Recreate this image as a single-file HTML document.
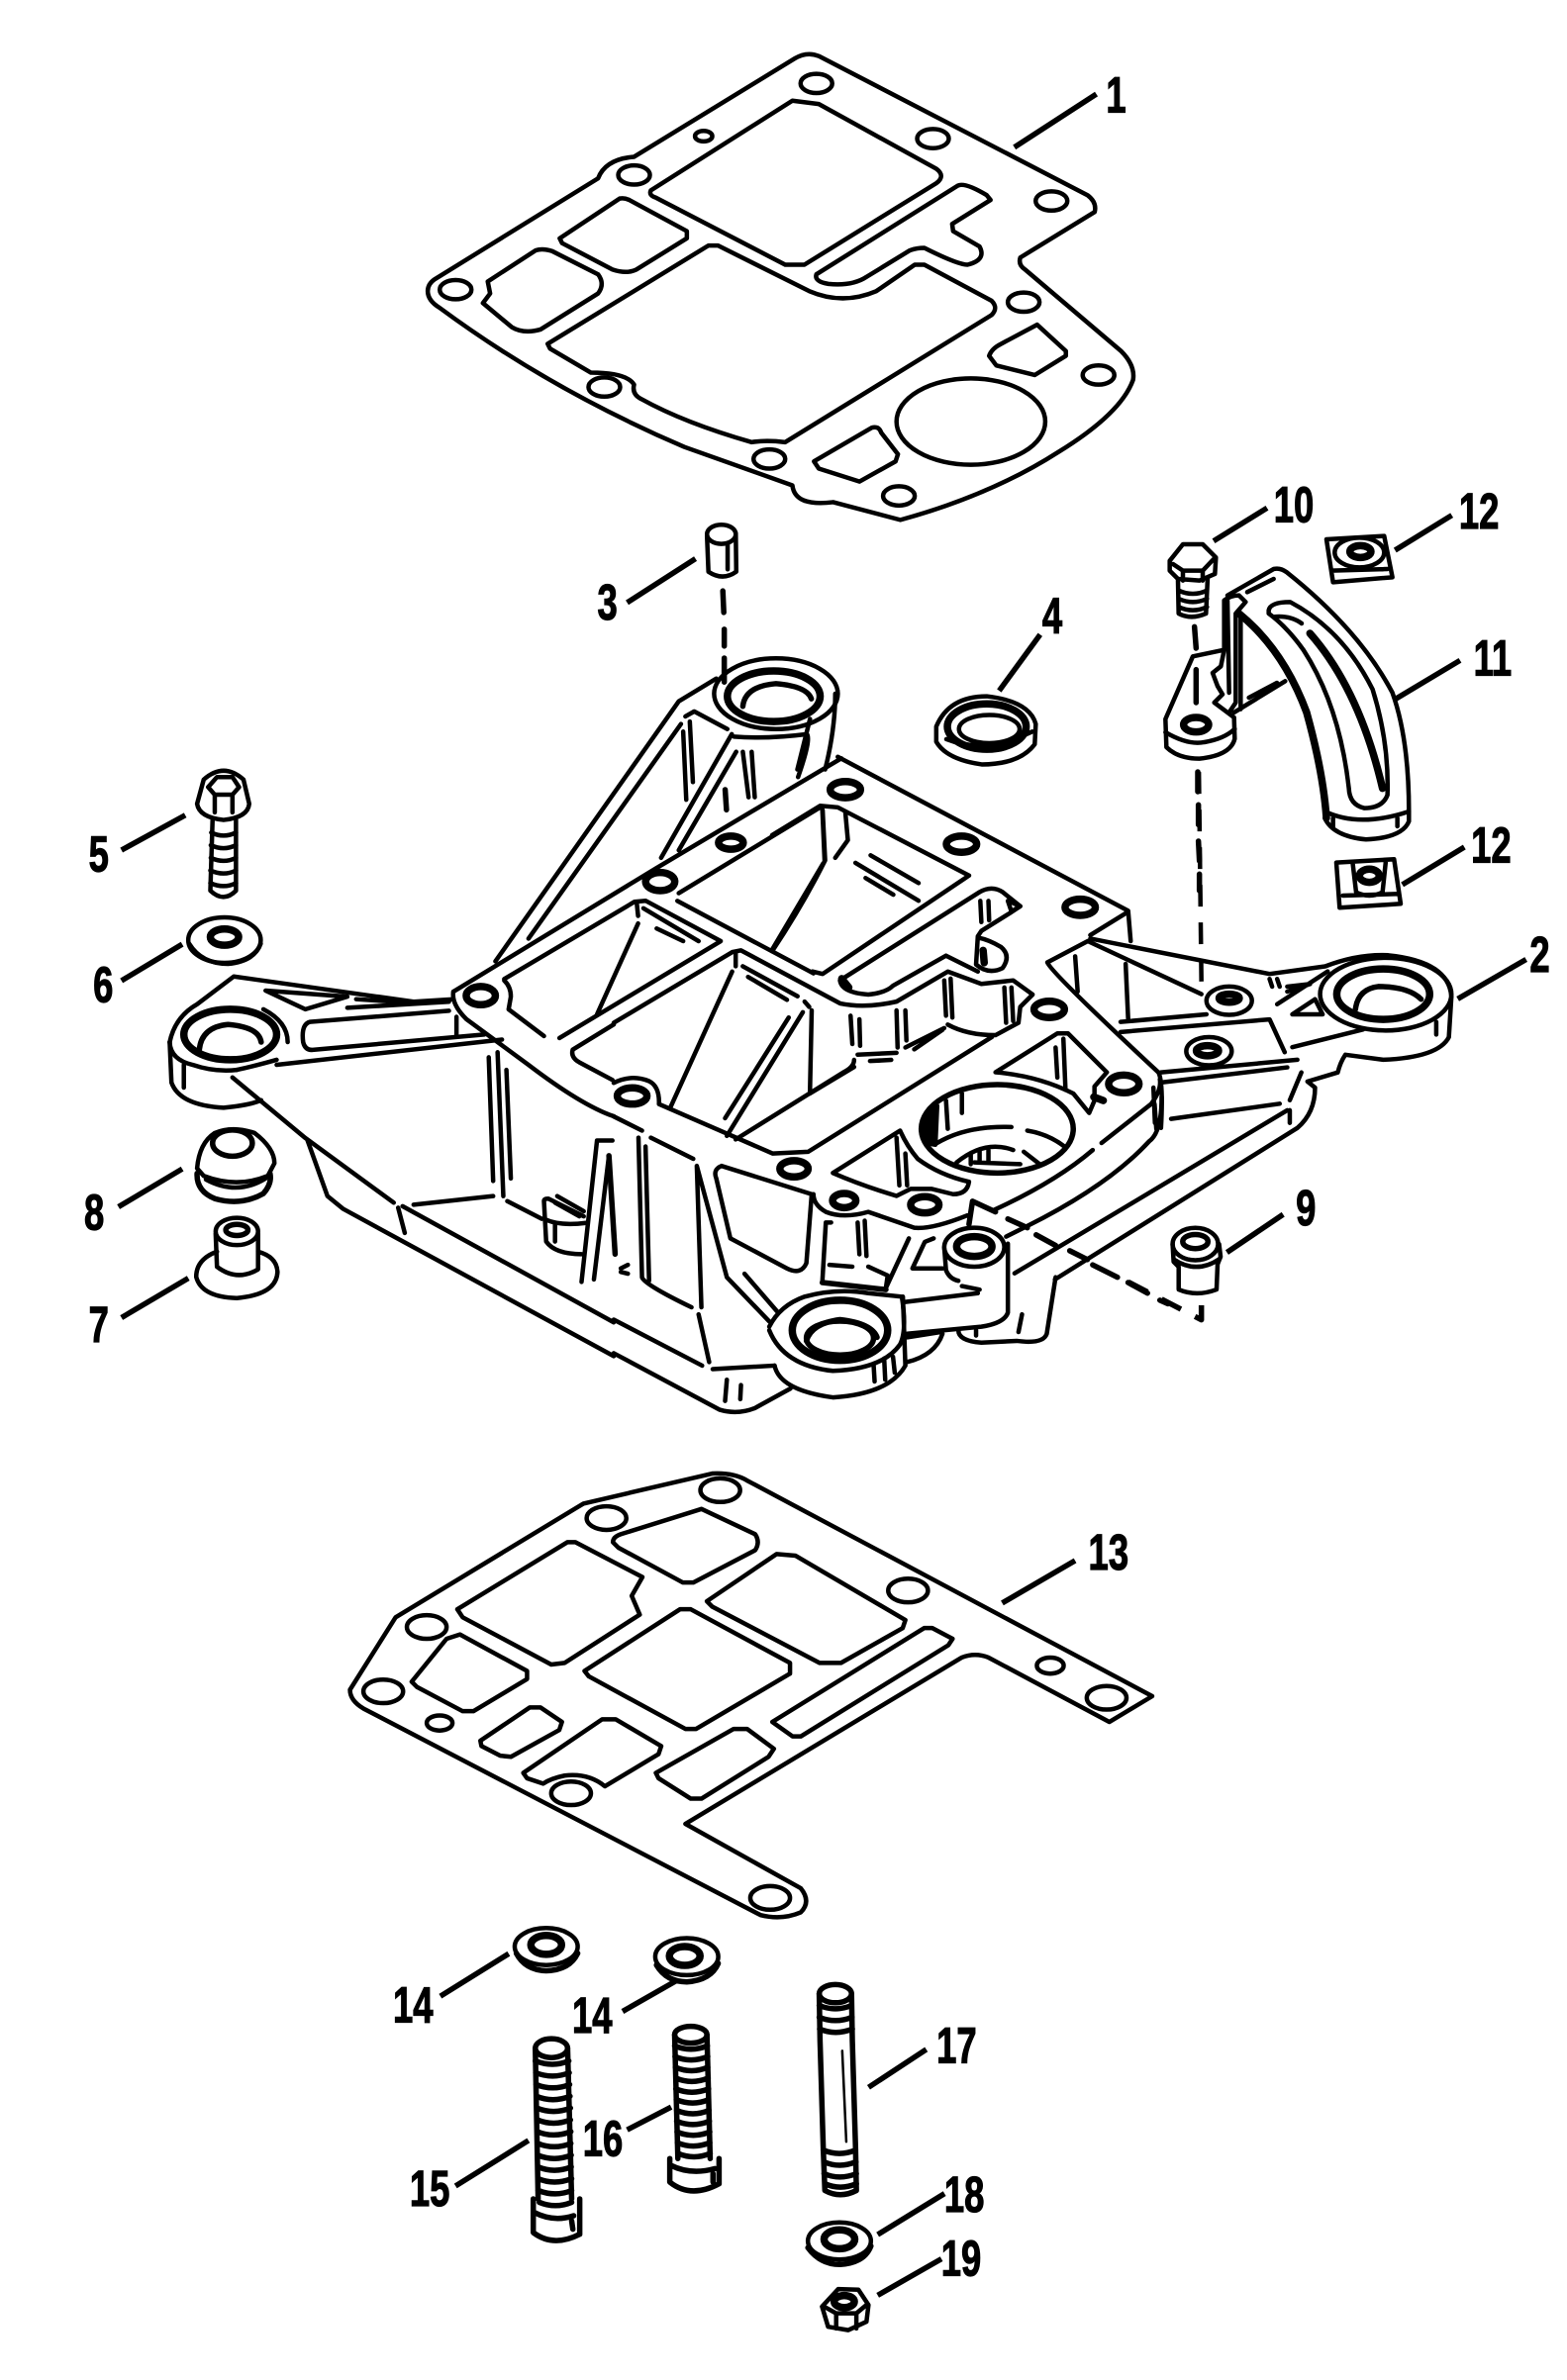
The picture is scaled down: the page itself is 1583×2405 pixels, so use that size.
<!DOCTYPE html>
<html><head><meta charset="utf-8"><style>
html,body{margin:0;padding:0;background:#fff}
svg{display:block}
svg *{vector-effect:non-scaling-stroke}
path,ellipse,line{fill:none;stroke:#000;stroke-width:4.5;stroke-linecap:round;stroke-linejoin:round}
.t{stroke-width:7.5}
.m{stroke-width:5.5}
.n{stroke-width:2.5}
.w{fill:#fff}
.f{fill:#000}
.l{stroke-width:5.5;stroke-linecap:butt}
.d{stroke-dasharray:22 16;stroke-linecap:butt}
text{font:bold 33px "Liberation Sans",sans-serif;text-anchor:middle;fill:#000;stroke:#000;stroke-width:1}
</style></head><body>
<svg width="1583" height="2405" xmlns="http://www.w3.org/2000/svg">

<!-- overview coordinates: leaders and labels -->
<g transform="scale(1.534)">
<line class="l" x1="668" y1="97" x2="722" y2="62"/><line class="l" x1="960" y1="658" x2="1005" y2="632"/><line class="l" x1="413" y1="397" x2="458" y2="368"/><line class="l" x1="658" y1="455" x2="685" y2="418"/><line class="l" x1="80" y1="560" x2="122" y2="537"/><line class="l" x1="80" y1="646" x2="120" y2="622"/><line class="l" x1="80" y1="868" x2="124" y2="842"/><line class="l" x1="78" y1="795" x2="120" y2="770"/><line class="l" x1="808" y1="825" x2="845" y2="800"/><line class="l" x1="660" y1="1056" x2="708" y2="1028"/><line class="l" x1="290" y1="1315" x2="335" y2="1287"/><line class="l" x1="410" y1="1325" x2="445" y2="1305"/><line class="l" x1="300" y1="1440" x2="348" y2="1410"/><line class="l" x1="413" y1="1403" x2="442" y2="1388"/><line class="l" x1="572" y1="1375" x2="610" y2="1350"/><line class="l" x1="578" y1="1472" x2="622" y2="1445"/><line class="l" x1="578" y1="1512" x2="620" y2="1488"/>
<text transform="translate(735,74) scale(.72,1)">1</text>
<text transform="translate(1014,640) scale(.72,1)">2</text>
<text transform="translate(400,408) scale(.72,1)">3</text>
<text transform="translate(693,417) scale(.72,1)">4</text>
<text transform="translate(65,574) scale(.72,1)">5</text>
<text transform="translate(68,660) scale(.72,1)">6</text>
<text transform="translate(65,884) scale(.72,1)">7</text>
<text transform="translate(62,810) scale(.72,1)">8</text>
<text transform="translate(860,807) scale(.72,1)">9</text>
<text transform="translate(852,344) scale(.72,1)">10</text>
<text transform="translate(983,445) scale(.72,1)">11</text>
<text transform="translate(974,348) scale(.72,1)">12</text>
<text transform="translate(982,568) scale(.72,1)">12</text>
<text transform="translate(730,1034) scale(.72,1)">13</text>
<text transform="translate(272,1332) scale(.72,1)">14</text>
<text transform="translate(390,1339) scale(.72,1)">14</text>
<text transform="translate(283,1453) scale(.72,1)">15</text>
<text transform="translate(397,1420) scale(.72,1)">16</text>
<text transform="translate(630,1359) scale(.72,1)">17</text>
<text transform="translate(635,1457) scale(.72,1)">18</text>
<text transform="translate(633,1499) scale(.72,1)">19</text>
</g>

<!-- gasket 1 + pin 3 -->
<g transform="translate(420,30) scale(.4847)">
<path d="M25,545 Q25,530 40,520 L380,310 Q395,270 455,265 L790,60 Q815,45 840,55 L1400,345 Q1420,360 1415,380 L1260,475 Q1255,490 1270,500 L1470,670 Q1500,700 1495,730 Q1470,800 1340,880 Q1200,970 1010,1022 L870,985 Q790,995 785,950 L560,870 Q280,750 50,580 Q25,565 25,545Z"/>
<ellipse cx="835" cy="112" rx="33" ry="20"/><ellipse cx="600" cy="222" rx="18" ry="11"/><ellipse cx="1078" cy="227" rx="33" ry="20"/><ellipse cx="455" cy="303" rx="33" ry="20"/><ellipse cx="1325" cy="357" rx="33" ry="20"/><ellipse cx="83" cy="542" rx="33" ry="20"/><ellipse cx="1267" cy="568" rx="33" ry="20"/><ellipse cx="1423" cy="720" rx="33" ry="20"/><ellipse cx="393" cy="745" rx="33" ry="20"/><ellipse cx="737" cy="895" rx="33" ry="20"/><ellipse cx="1007" cy="972" rx="33" ry="20"/>
<ellipse cx="1157" cy="817" rx="155" ry="90"/>
<path d="M490,335 L785,148 L840,155 L1085,290 Q1105,305 1085,320 L810,490 L770,490 L500,350 Q485,345 490,335Z"/>
<path d="M835,510 L1130,325 Q1145,318 1190,345 L1198,355 L1118,405 L1120,420 L1175,452 Q1190,480 1150,490 Q1130,490 1060,455 Q1045,455 1030,460 L940,515 Q910,535 860,530 Q830,525 835,510Z"/>
<path d="M300,435 L425,352 Q435,350 445,355 L565,420 L565,435 L460,500 Q440,510 410,500 L305,445Z"/>
<path d="M150,525 L250,460 Q265,455 285,462 L380,510 Q395,530 380,550 L260,625 Q225,635 200,620 L140,570 L155,550Z"/>
<path d="M275,655 L610,450 L630,450 L820,545 Q890,575 960,545 L1040,490 L1060,490 L1200,565 Q1215,580 1200,595 L770,860 Q730,855 700,860 Q560,820 470,770 Q450,760 455,740 Q440,715 365,715 L280,665 Z"/>
<path d="M1195,680 Q1200,665 1220,655 L1295,615 L1355,670 L1355,680 L1290,720 L1210,700 Z"/>
<path d="M830,900 L950,830 Q965,825 970,840 L1005,885 L1000,900 L925,942 L840,915Z"/>
<ellipse cx="637" cy="1052" rx="30" ry="20"/>
<path d="M607,1055 L610,1130 Q640,1150 668,1130 L667,1050 M650,1070 L650,1125"/>
<path class="m" d="M640,1170 L642,1215 M643,1250 L643,1285 M643,1310 L643,1360"/>
</g>

<!-- gasket 13 -->
<g transform="translate(340,1450) scale(.5421)">
<path d="M25,475 L110,340 L460,128 L700,72 Q740,70 765,85 L1520,487 L1440,535 L1215,415 Q1190,405 1165,415 L650,725 L865,845 Q885,870 865,890 Q830,905 790,895 L50,510 Q25,495 25,475Z"/>
<ellipse cx="715" cy="103" rx="37" ry="22"/><ellipse cx="503" cy="155" rx="37" ry="22"/><ellipse cx="168" cy="358" rx="37" ry="22"/><ellipse cx="1065" cy="290" rx="37" ry="22"/><ellipse cx="1330" cy="430" rx="25" ry="15"/><ellipse cx="87" cy="478" rx="37" ry="22"/><ellipse cx="1435" cy="490" rx="37" ry="22"/><ellipse cx="192" cy="537" rx="24" ry="14"/><ellipse cx="437" cy="668" rx="37" ry="22"/><ellipse cx="808" cy="863" rx="37" ry="22"/>
<path d="M515,200 Q515,190 530,185 L680,138 L780,185 Q790,200 780,215 L665,275 L645,275 L525,210Z"/>
<path d="M225,325 L430,200 L445,200 L570,265 L550,300 L565,335 L425,425 L400,428 L235,340 Z"/>
<path d="M690,310 L820,222 L855,225 L1060,345 L1055,360 L940,425 L900,425 L700,320Z"/>
<path d="M462,440 L640,325 L660,325 L845,425 L845,445 L670,548 L650,548 L470,450Z"/>
<path d="M140,460 L205,380 L230,372 L355,440 L355,455 L255,515 L235,515 L150,470Z"/>
<path d="M268,570 L360,508 L380,508 L420,535 L415,550 L325,600 L305,598 L270,580Z"/>
<path d="M348,630 L495,530 L520,530 L605,580 L600,595 L500,655 Q470,630 425,635 Q400,640 385,650 L355,640Z"/>
<path d="M595,630 L740,548 L765,548 L815,585 L805,600 L680,678 L660,678 L600,640Z"/>
<path d="M812,535 L1095,360 L1110,360 L1148,380 L1140,392 L865,562 L850,562 Z"/>
</g>

<!-- left body -->
<g transform="translate(150,650) scale(.4464,.5102)">
<path d="M110,318 L125,270 Q170,235 215,270 L228,318 Q225,345 170,350 Q115,345 110,318Z"/>
<path d="M135,285 L155,265 L190,265 L205,285 L190,300 L150,300 Z M150,300 L150,335 M190,300 L190,335"/>
<path d="M145,350 L140,490 Q170,515 198,490 L198,350"/>
<path d="M142,375 Q170,387 198,375 M141,400 Q170,412 198,400 M141,425 Q170,437 198,425 M140,450 Q170,462 198,450 M140,475 Q170,487 198,475"/>
<ellipse cx="172" cy="588" rx="82" ry="45"/><ellipse class="t" cx="172" cy="582" rx="32" ry="16"/>
<path d="M92,595 Q120,635 180,635 Q240,630 254,595"/>
<path d="M110,1040 Q115,990 150,970 Q190,955 240,970 Q285,1000 285,1030 L270,1055 Q200,1080 125,1055Z"/>
<ellipse class="m" cx="190" cy="990" rx="45" ry="26"/>
<path class="m" d="M110,1050 Q108,1085 150,1100 Q210,1115 260,1090 Q280,1070 275,1050"/>
<path d="M130,1062 Q200,1095 265,1060"/>
<path d="M155,1205 Q108,1220 108,1255 Q120,1295 200,1297 Q290,1290 292,1245 Q290,1215 248,1205"/>
<path d="M152,1170 L155,1235 Q200,1265 248,1240 L248,1170"/>
<ellipse cx="200" cy="1165" rx="48" ry="27"/><ellipse class="m" cx="200" cy="1162" rx="25" ry="11"/>
<path d="M48,790 Q60,740 110,715 L193,660 L600,710 L690,705"/>
<path d="M48,790 L52,870 Q70,915 170,920 Q230,915 255,905"/>
<path d="M48,790 Q50,825 100,835 Q150,850 200,845"/>
<ellipse class="t" cx="185" cy="775" rx="105" ry="50"/>
<path class="m" d="M115,805 Q120,760 180,755 Q250,760 255,790"/>
<path d="M315,790 Q315,750 260,725 M290,825 Q250,835 200,845"/>
<path d="M290,835 L800,785"/>
<path d="M680,728 L365,750 Q345,755 350,790 Q355,808 375,805 L760,775"/>
<path d="M697,740 L697,778 M265,688 L450,700 L355,725 Z M470,705 L590,712 M450,722 L680,710 M80,835 L80,880"/>
<path d="M190,860 L355,980 L555,1108"/>
<path d="M360,985 L405,1095 L440,1120 L1053,1412"/>
<path d="M565,1118 L580,1168 M575,1115 L1053,1345 M600,1112 L780,1095 M812,1105 L890,1140"/>
<path d="M770,820 L780,1065 M790,810 L803,1095 M810,845 L820,1060"/>
<path d="M895,1105 Q895,1100 905,1100 L985,1135 M895,1105 L900,1185 Q920,1210 980,1210 M895,1140 Q930,1155 990,1148 M925,1095 L985,1125 M920,1108 L975,1135 M920,1150 L920,1185"/>
<path d="M980,1265 L1015,985 L1050,985 M1008,1260 L1042,1015"/>
<path class="m" d="M1042,1015 L1056,1210"/>
<path d="M690,690 L1150,445 L1568,228"/>
<path d="M690,690 Q685,715 720,745 L860,835 Q980,915 1053,937"/>
<path d="M1200,495 L1520,325"/>
<path d="M805,668 Q820,680 820,700 L815,725 L895,778 M930,782 L1295,590 L1125,510 L1100,512 L805,665"/>
<path d="M1105,515 L1108,540 M1120,525 L1245,590 M1150,565 L1210,590 M1108,555 L1015,735"/>
<path d="M960,805 L1053,755 M960,805 Q955,820 975,830 L1050,865"/>
<path class="n" d="M1525,435 L1410,605"/>
<path d="M1525,330 L1530,430"/>
<ellipse class="t" cx="752" cy="698" rx="33" ry="18"/><ellipse class="t" cx="1158" cy="472" rx="33" ry="18"/><ellipse class="t" cx="1318" cy="395" rx="28" ry="13"/>
<path d="M785,630 L1200,115 L1285,70 M860,585 L1205,160 M1160,425 L1320,180 M1200,410 L1330,215 M1215,145 L1235,135 L1310,170 M1210,175 L1217,310 M1225,155 L1232,275"/>
<ellipse cx="1420" cy="100" rx="140" ry="70"/>
<ellipse class="t" cx="1415" cy="105" rx="105" ry="50"/>
<path class="m" d="M1345,125 Q1350,85 1420,80 Q1490,85 1500,110"/>
<path d="M1325,185 Q1400,190 1490,180 Q1500,190 1470,265 M1345,215 L1358,305 M1365,215 L1372,305"/>
<path class="m" d="M1305,290 L1308,330"/>
</g>

<!-- right body -->
<g transform="translate(780,650) scale(.5102)">
<path d="M130,225 L705,530 L710,590 M630,578 L700,535"/>
<path d="M125,100 Q125,170 105,250 M75,150 L50,250"/>
<path d="M325,165 Q350,105 425,105 Q510,115 522,160 L520,200 Q490,240 415,240 Q345,230 325,195Z"/>
<ellipse class="t" cx="425" cy="165" rx="78" ry="45"/>
<ellipse cx="430" cy="170" rx="60" ry="28"/>
<path d="M345,190 Q420,220 515,175"/>
<path d="M630,585 L985,655 L1095,640 Q1160,615 1220,618 Q1340,630 1345,700 L1340,780 Q1320,820 1210,825 L1135,815 Q1125,830 1120,850 L1060,868 L1075,880 Q1075,930 1040,960 L560,1260"/>
<ellipse cx="1215" cy="695" rx="130" ry="72"/>
<ellipse class="t" cx="1210" cy="695" rx="92" ry="50"/>
<path class="m" d="M1155,725 Q1160,685 1200,680 Q1260,680 1285,705"/>
<path d="M545,632 L625,590 M545,632 Q550,650 765,850 Q775,870 770,960 M625,590 L850,695"/>
<path d="M770,850 L1040,825 M770,870 L1020,840 M1030,800 L1170,765 M690,770 L985,745 L1015,810 M690,750 L860,735 M600,620 L605,690 M700,635 L705,745"/>
<path d="M1000,715 L1100,650 M1030,735 L1075,705 L1090,735Z M985,665 L990,680 M1000,665 L1005,680 M1020,680 L1065,675 L1020,690 M1315,750 L1315,775"/>
<path d="M480,1248 L1020,925 M790,942 L1005,912 M1048,850 L1025,905 M1025,925 L1025,950 M755,880 L758,950"/>
<ellipse class="w" cx="905" cy="708" rx="45" ry="28"/><ellipse class="t" cx="905" cy="703" rx="20" ry="8"/>
<ellipse class="w" cx="865" cy="808" rx="45" ry="28"/><ellipse class="t" cx="862" cy="807" rx="22" ry="10"/>
<line class="d" x1="845" y1="255" x2="850" y2="670"/>
<path d="M0,380 L95,322 L130,325 L390,460 L100,655 L80,650"/>
<path d="M100,330 L105,430 Q60,520 0,610 M145,335 L150,390 L125,425 M165,435 L290,510 M195,420 L290,475 M185,465 L240,498"/>
<ellipse class="t" cx="145" cy="290" rx="30" ry="16"/><ellipse class="t" cx="375" cy="398" rx="30" ry="16"/><ellipse class="t" cx="610" cy="523" rx="30" ry="16"/>
<path class="m d" d="M705,1265 L850,1340 L850,1300"/>
<ellipse cx="838" cy="1190" rx="45" ry="32"/><ellipse class="m" cx="838" cy="1185" rx="25" ry="14"/>
<path d="M793,1190 L795,1225 L805,1235 L805,1280 Q840,1295 880,1280 L882,1230 L888,1215 L885,1190 M795,1220 Q840,1250 885,1220"/>
</g>

<!-- centre of body -->
<g transform="translate(620,880) scale(.3571)">
<path d="M180,85 L565,290"/>
<path d="M0,430 L335,230 L360,225 L640,375 Q710,390 800,370 L945,285 L1040,320 L1130,310 L1185,350 L1150,385 L1145,430 L1080,465 Q1000,465 945,435"/>
<path d="M690,520 L800,515 M725,538 L785,535 M680,535 Q680,555 650,570 L345,760"/>
<path d="M850,505 L930,450 M825,500 L935,445"/>
<path d="M640,310 L1035,60 Q1070,40 1100,60 L1150,100 L1120,120 L1040,170 L1030,185 L1025,265 Q1060,295 1100,275 Q1125,240 1095,215 Q1060,195 1035,190 M640,310 Q645,345 720,350 Q770,345 790,325 L940,240 L1030,285"/>
<path d="M1037,85 L1040,145 M1060,85 L1062,140 M1115,85 L1150,100 L1125,115 Z"/>
<path class="t" d="M1045,225 L1048,260 M645,305 L665,330"/>
<path d="M670,410 L675,490 M695,420 L697,495 M800,395 L803,500 M825,395 L828,480 M935,310 L940,410 M953,305 L958,415 M1105,330 L1110,430 M1125,330 L1130,425"/>
<path d="M345,230 L345,270 M365,270 L520,355 M380,300 L490,365 M335,285 L160,670 M495,415 L315,700 M535,400 L320,750 M560,395 L555,630 M540,370 L553,385 M555,630 L680,555"/>
<path d="M0,600 Q50,575 100,595 Q130,610 128,660 L450,800 L550,795 L1070,470"/>
<path d="M0,695 L80,735 M105,755 L225,815"/>
<path d="M70,755 L80,1150 Q85,1170 220,1235 M90,780 L100,1160"/>
<path d="M235,835 L248,1235 M240,1255 L270,1390 M235,835 L320,1150 L440,1275 M370,1140 L465,1250 M20,1125 L40,1115 M20,1135 L40,1140"/>
<path d="M305,835 Q280,845 290,870 L330,1040 L490,1125 Q530,1145 545,1110 L560,915 L305,835"/>
<path d="M565,915 Q565,945 600,965 Q650,985 720,965 L850,1010 Q900,1015 1000,975"/>
<path d="M1075,960 Q1250,880 1355,790 M1380,770 L1520,660 Q1550,620 1545,590"/>
<path d="M1110,1035 L1170,1005 Q1400,890 1515,765 Q1550,740 1550,640 M1530,660 L1535,730"/>
<path d="M1080,570 L1255,460 L1285,460 L1395,570 L1360,610 L1360,650 L1345,685 L1300,630 Q1200,580 1080,570Z M1250,500 L1255,585 M1272,475 L1278,620"/>
<path class="t" d="M1358,640 L1385,650"/>
<ellipse class="m" cx="1085" cy="730" rx="215" ry="125"/>
<path class="f" d="M870,735 Q875,690 915,665 L910,775 Q870,770 870,735Z"/>
<path d="M940,650 L945,730 M985,630 L985,685 M915,770 Q1000,720 1125,725 M1170,735 Q1230,745 1275,780 M970,825 Q1050,760 1130,790 M1160,795 L1205,830 M1010,800 L1010,830 M1035,790 L1035,825 M1060,790 L1060,825 M1020,825 L1150,830"/>
<path d="M620,855 L810,735 Q830,780 860,815 Q920,860 1005,880 Q1000,915 960,915 L900,900 L840,900 L800,920 Q700,890 620,855Z M800,755 L808,890 M825,800 L830,890"/>
<path class="m" d="M1005,1000 L1015,935 L1080,965 M1115,985 L1170,1010 M1195,1030 L1250,1060 M1290,1075 L1340,1100 M1355,1115 L1425,1150 M1455,1165 L1510,1195 M1545,1215 L1568,1225"/>
<path d="M905,1040 L880,1050 L845,1125 L930,1125"/>
<path d="M615,995 L600,995 L590,1165 M770,1180 L835,1040 M690,995 L695,1085 M710,990 L715,1090 M610,1115 L675,1120 M720,1120 L775,1145 L770,1180"/>
<path class="m" d="M590,1165 L770,1185"/>
<path d="M935,1065 L940,1130 Q950,1155 975,1160 M1115,1055 L1115,1250 Q1105,1280 1040,1290 L830,1310 M985,1175 L1035,1185 M825,1220 L1030,1195"/>
<ellipse class="w" cx="1020" cy="1065" rx="85" ry="55"/><ellipse class="t" cx="1020" cy="1063" rx="50" ry="28"/>
<path d="M440,1290 Q470,1230 540,1205 Q630,1180 720,1195 L815,1205 Q830,1300 810,1340 Q760,1410 620,1415 Q480,1400 440,1300"/>
<ellipse class="t" cx="640" cy="1300" rx="135" ry="85"/>
<ellipse class="m" cx="640" cy="1322" rx="95" ry="48"/>
<path class="m" d="M545,1330 Q560,1280 640,1270 Q730,1280 745,1320"/>
<path d="M605,1220 L680,1218 M455,1400 Q470,1470 620,1490 Q780,1480 825,1400 L818,1205 M735,1395 L738,1445 M765,1380 L768,1440 M790,1375 L795,1420 M830,1390 Q910,1370 930,1310 M830,1320 L925,1305"/>
<path d="M975,1300 Q975,1330 1040,1335 L1140,1330 Q1215,1340 1225,1310 L1250,1150 M1155,1255 L1145,1305 M1025,1300 L1025,1315"/>
<path d="M280,1410 L455,1400 M320,1440 L315,1500 M360,1455 L358,1495 M0,1270 L250,1400 M0,1365 L300,1525 Q350,1540 400,1520 L500,1465"/>
<ellipse class="t" cx="52" cy="637" rx="42" ry="23"/><ellipse class="t" cx="510" cy="843" rx="40" ry="23"/><ellipse class="t" cx="1232" cy="392" rx="43" ry="23"/><ellipse class="t" cx="1443" cy="603" rx="43" ry="25"/><ellipse class="t" cx="652" cy="933" rx="33" ry="20"/><ellipse class="t" cx="880" cy="945" rx="40" ry="23"/>
</g>

<!-- bracket 10/11/12 -->
<g transform="translate(1140,480) scale(.3333)">
<line class="l" x1="258" y1="200" x2="420" y2="100"/><line class="l" x1="808" y1="228" x2="980" y2="122"/><line class="l" x1="808" y1="680" x2="1005" y2="562"/><line class="l" x1="830" y1="1242" x2="1018" y2="1128"/>
<path d="M125,260 L165,210 L225,210 L265,250 L262,300 L215,320 L150,315 L125,290 Z M135,270 L165,290 L225,290 L258,255 M165,290 L165,320 M225,290 L225,320"/>
<path d="M150,320 L152,420 Q190,440 235,420 L240,310 M152,350 Q195,370 238,350 M152,375 Q195,395 238,375 M152,400 Q195,420 238,400"/>
<path class="m" d="M200,460 L205,525 M205,590 L205,690 M210,900 L210,960 M212,1000 L212,1060 M212,1110 L215,1170 M215,1210 L215,1260"/>
<path d="M195,550 L112,740 L115,825 Q150,860 215,860 Q310,850 322,800 L320,735 L260,690 L285,665 L270,640 L255,600 L280,580 L290,530 L195,550"/>
<path d="M112,780 Q180,820 230,810 Q290,800 322,770"/>
<ellipse class="t" cx="205" cy="757" rx="38" ry="22"/>
<path d="M290,530 L290,380 Q310,365 335,365 L355,385 L325,420 L325,690 L305,720 M300,380 L305,660 M320,720 L475,625 M365,675 L450,630 M340,430 L340,710"/>
<path d="M300,365 L440,285 Q460,280 480,295 Q700,470 800,660 Q850,800 850,1020 L850,1050 Q830,1100 720,1105 Q620,1095 595,1040"/>
<path class="t" d="M335,420 Q470,530 540,720 Q590,900 600,1040"/>
<path d="M595,1020 Q700,1070 850,1020 M620,1040 L620,1070 M815,1040 L815,1065"/>
<path d="M425,410 Q430,385 490,385 Q650,470 740,650 Q790,810 785,970 Q770,1010 715,1010 Q670,1000 668,950 Q640,700 530,530 Q480,460 425,420Z"/>
<path class="t" d="M550,480 Q700,650 770,950"/>
<path d="M440,430 Q490,425 525,450 M360,355 L440,315"/>
<path d="M600,195 L775,185 L800,310 L620,325 Z M615,290 L785,285"/>
<ellipse cx="700" cy="235" rx="75" ry="45"/><ellipse class="t" cx="703" cy="232" rx="32" ry="18"/>
<path d="M630,1175 L805,1165 L825,1300 L640,1312Z M650,1275 L820,1270 M680,1180 L690,1265 Q730,1285 770,1265 L780,1170"/>
<ellipse class="t" cx="730" cy="1215" rx="30" ry="20"/>
</g>

<!-- fasteners -->
<g transform="translate(400,1950) scale(.408,.34)">
<ellipse cx="372" cy="50" rx="78" ry="55"/><ellipse class="t" cx="372" cy="45" rx="38" ry="28"/><path class="m" d="M298,70 Q320,120 372,122 Q430,120 450,70"/>
<ellipse cx="720" cy="80" rx="78" ry="55"/><ellipse class="t" cx="715" cy="78" rx="38" ry="28"/><path class="m" d="M645,105 Q670,155 720,155 Q780,150 798,100"/>
<ellipse cx="1098" cy="925" rx="78" ry="55"/><ellipse class="t" cx="1098" cy="920" rx="38" ry="28"/><path class="m" d="M1020,945 Q1050,995 1100,995 Q1160,990 1176,940"/>
<ellipse class="m" cx="385" cy="352" rx="40" ry="28"/>
<path class="m" d="M345,352 L352,800 M425,352 L435,800"/>
<path class="m" d="M345,390 Q388,410 428,390 M346,425 Q388,445 429,425 M347,460 Q388,480 430,460 M348,495 Q388,515 431,495 M349,530 Q390,550 432,530 M350,565 Q390,585 432,565 M350,600 Q390,620 433,600 M351,635 Q392,655 433,635 M351,670 Q392,690 434,670 M352,705 Q392,725 434,705 M352,740 Q392,760 435,740 M352,775 Q395,795 435,775 M355,810 Q395,830 435,810"/>
<path class="m" d="M340,800 L340,900 Q390,945 455,905 L455,800 M342,840 Q390,870 440,850 M435,865 L438,890"/>
<ellipse class="m" cx="730" cy="312" rx="40" ry="25"/>
<path class="m" d="M690,312 L698,680 M770,312 L778,680"/>
<path class="m" d="M690,345 Q730,365 771,345 M691,377 Q730,397 772,377 M692,409 Q732,429 772,409 M693,441 Q732,461 773,441 M693,473 Q732,493 774,473 M694,505 Q735,525 774,505 M695,537 Q735,557 775,537 M695,569 Q735,589 776,569 M696,601 Q736,621 777,601 M697,633 Q736,653 777,633 M698,665 Q738,685 778,665"/>
<path class="m" d="M678,680 L678,750 Q730,800 800,755 L800,680 M680,700 Q730,730 790,710 M785,725 L785,750"/>
<ellipse class="m" cx="1088" cy="190" rx="40" ry="27"/>
<path class="m" d="M1048,190 L1050,330 L1058,650 L1062,775 Q1100,800 1140,775 L1138,650 L1130,330 L1128,190"/>
<path class="m" d="M1048,225 Q1088,245 1128,225 M1048,260 Q1088,280 1129,260 M1049,295 Q1088,315 1130,295 M1058,655 Q1098,675 1138,655 M1060,690 Q1098,710 1139,690 M1060,725 Q1098,745 1140,725 M1062,755 Q1100,775 1140,755"/>
<path class="n" d="M1105,360 L1115,630"/>
<path d="M1055,1120 L1095,1068 L1145,1070 L1170,1115 L1165,1165 L1120,1190 L1070,1180 Z M1090,1140 L1140,1140 M1090,1140 L1090,1185 M1140,1140 L1140,1185 M1060,1120 L1090,1140 M1165,1115 L1140,1140"/>
<ellipse class="t" cx="1110" cy="1105" rx="25" ry="18"/>
</g>
</svg>
</body></html>
